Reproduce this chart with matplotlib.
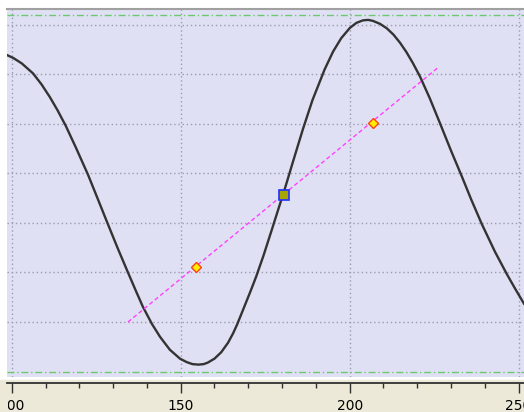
import numpy as np
import matplotlib
matplotlib.use('Agg')
import matplotlib.pyplot as plt
from matplotlib.patches import Rectangle
from matplotlib.transforms import Bbox, TransformedBbox

# curve
curve_x = [98.6, 100.5, 103.0, 106.3, 108.8, 111.3, 113.6, 116.0, 119.0, 122.6,
           125.5, 128.2, 131.3, 134.4, 136.8, 138.8, 141.5, 143.9, 146.8, 149.8,
           151.8, 153.5, 155.3, 156.8, 158.0, 160.0, 162.0, 164.0, 165.5, 166.7,
           168.3, 170.6, 172.3, 174.5, 177.0, 179.0, 180.6, 183.2, 186.2, 189.0,
           192.6, 195.1, 197.5, 200.1, 202.0, 203.9, 205.5, 206.9, 209.0, 211.0,
           213.0, 214.9, 216.8, 218.7, 220.8, 223.7, 226.7, 230.0, 233.2, 236.0,
           239.1, 243.0, 246.5, 249.0, 251.6]
curve_y = [23.9, 23.3, 22.2, 20.2, 18.0, 15.4, 12.7, 9.6, 5.2, -0.3,
           -5.2, -9.8, -15.0, -20.0, -23.8, -26.9, -30.4, -33.0, -35.6, -37.4,
           -38.1, -38.5, -38.6, -38.5, -38.2, -37.4, -36.1, -34.2, -32.3, -30.5,
           -27.8, -23.9, -20.9, -16.6, -11.3, -7.0, -3.6, 2.3, 9.0, 14.8,
           21.0, 24.6, 27.3, 29.4, 30.4, 30.9, 31.0, 30.8, 30.2, 29.3,
           28.0, 26.4, 24.5, 22.3, 19.6, 15.2, 10.2, 4.6, -0.6, -5.3,
           -10.2, -15.8, -20.3, -23.3, -26.3]

# dashed fit line and markers
fit_x = [134.4, 226.4]
fit_y = [-30.0, 21.5]
center_x = [180.6]
center_y = [-4.3]
diam_x = [154.6, 206.9]
diam_y = [-18.9, 10.2]

# limit lines
limits = [32.0, -40.0]

xticks_major = [100, 150, 200, 250]
ygrid = [-30, -20, -10, 0, 10, 20, 30]

W, H = 524, 412
fig = plt.figure(figsize=(W / 100, H / 100), dpi=100)
fig.patch.set_facecolor('white')
fig.patches.append(Rectangle((0, 0), 1, 32 / H, transform=fig.transFigure,
                             color='#ece9d8', zorder=-5))

ax = fig.add_axes([7 / W, 35 / H, 517 / W, 368 / H])
ax.set_facecolor('#e0e0f5')
ax.set_xlim(98.6, 251.6)
ax.set_ylim(-41.1, 33.2)

ax.set_xticks(xticks_major)
ax.set_yticks(ygrid)
ax.grid(True, color='#9c9cb0', linestyle=(0, (1, 2)), lw=1.0)
ax.tick_params(left=False, bottom=False, labelleft=False, labelbottom=False)
for s in ['left', 'right', 'bottom']:
    ax.spines[s].set_visible(False)
ax.spines['top'].set_color('#a0a0a0')
ax.spines['top'].set_linewidth(1.5)

for v in limits:
    ax.axhline(v, color='#6cc86c', lw=1.0, linestyle=(0, (5, 2, 1, 2)))

ax.plot(curve_x, curve_y, color='#333333', lw=1.7, solid_joinstyle='round')
ax.plot(fit_x, fit_y, color='#ff40ff', lw=1.0, linestyle=(0, (3, 2)))
ax.plot(diam_x, diam_y, linestyle='none', marker='D', ms=5.5,
        mfc='#ffee00', mec='#ff4010', mew=1.0)
ax.plot(center_x, center_y, linestyle='none', marker='s', ms=7,
        mfc='#a8a400', mec='#2030ff', mew=1.2)

# separate x axis below the plot area
ax2 = fig.add_axes([7 / W, 29 / H, 517 / W, 1 / H])
ax2.set_facecolor('none')
ax2.set_xlim(98.6, 251.6)
ax2.set_xticks(xticks_major)
ax2.set_xticks(np.arange(100, 251, 10), minor=True)
ax2.set_yticks([])
for s in ['left', 'right', 'top']:
    ax2.spines[s].set_visible(False)
ax2.spines['bottom'].set_color('#303030')
ax2.spines['bottom'].set_linewidth(1.3)
ax2.tick_params(axis='x', which='major', length=7.5, width=1.0, color='#303030',
                labelsize=10, pad=4)
ax2.tick_params(axis='x', which='minor', length=3.8, width=1.0, color='#303030')

fig.canvas.draw()
clip = TransformedBbox(Bbox([[8 / W, 0], [1, 1]]), fig.transFigure)
for lab in ax2.get_xticklabels():
    lab.set_clip_box(clip)
    lab.set_clip_on(True)

fig.savefig('out.png', dpi=100)
